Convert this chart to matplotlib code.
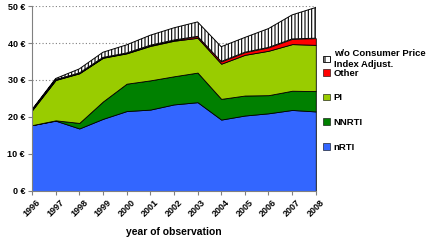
import numpy as np
import matplotlib.pyplot as plt
from matplotlib.patches import Patch

plt.rcParams['font.family'] = ['Liberation Sans', 'DejaVu Sans']
plt.rcParams['font.weight'] = 'bold'
plt.rcParams['hatch.linewidth'] = 0.8

# data (euro)
years = [1996, 1997, 1998, 1999, 2000, 2001, 2002, 2003, 2004, 2005, 2006, 2007, 2008]
nrti = [17.8, 19.0, 16.9, 19.5, 21.6, 22.0, 23.4, 24.0, 19.3, 20.4, 21.0, 21.9, 21.5]
nnrti = [0.0, 0.1, 1.5, 4.7, 7.4, 7.9, 7.6, 8.0, 5.6, 5.4, 4.9, 5.2, 5.5]
pi = [4.0, 10.9, 13.4, 11.8, 8.2, 9.3, 9.6, 9.4, 9.5, 11.0, 12.0, 12.6, 12.5]
other = [0.1, 0.1, 0.1, 0.1, 0.1, 0.2, 0.2, 0.4, 0.6, 0.7, 0.9, 1.4, 1.8]
wo_cpi = [0.1, 0.3, 1.1, 1.4, 2.2, 2.7, 3.3, 3.9, 4.0, 4.0, 5.1, 6.5, 8.3]

labels = ['nRTI', 'NNRTI', 'PI', 'Other', 'w/o Consumer Price\nIndex Adjust.']
colors = ['#3366FF', '#008000', '#99CC00', '#FF0000', 'white']

fig = plt.figure(figsize=(4.3, 2.46), dpi=100)
ax = fig.add_axes([0.0744, 0.2236, 0.66, 0.752])

x = np.array(years)
series = [nrti, nnrti, pi, other, wo_cpi]
base = np.zeros(len(x))
handles = []
for i, s in enumerate(series):
    top = base + np.array(s)
    if i == 4:
        ax.fill_between(x, base, top, facecolor='white', edgecolor='black',
                        hatch='|||||', linewidth=0.7, zorder=2)
        handles.append(Patch(facecolor='white', edgecolor='black', hatch='|||', linewidth=0.6))
    else:
        ax.fill_between(x, base, top, facecolor=colors[i], edgecolor='black',
                        linewidth=0.6, zorder=2)
        handles.append(Patch(facecolor=colors[i], edgecolor='black', linewidth=0.4))
    base = top

ax.set_xlim(1996, 2008)
ax.set_ylim(0, 50)
ax.set_xticks(years)
ax.set_xticklabels([str(y) for y in years], rotation=45, fontsize=6.5, fontweight='bold')
ax.set_yticks([0, 10, 20, 30, 40, 50])
ax.set_yticklabels(['%d €' % v for v in [0, 10, 20, 30, 40, 50]], fontsize=6.5, fontweight='bold')
ax.yaxis.grid(True, linestyle=(0, (1, 2)), color='#808080', linewidth=0.8, zorder=0)
ax.set_axisbelow(True)
for sp in ['top', 'right']:
    ax.spines[sp].set_visible(False)
ax.spines['left'].set_color('#808080')
ax.spines['bottom'].set_color('#808080')
ax.tick_params(axis='both', direction='out', length=3, color='#808080', pad=2)
ax.set_xlabel('year of observation', fontsize=7.5, fontweight='bold', labelpad=6)

leg_kw = dict(loc='upper left', frameon=False, fontsize=6.8,
              handlelength=0.7, handleheight=0.7, handletextpad=0.4,
              borderaxespad=0, borderpad=0)
leg1 = fig.legend(handles[4:], labels[4:], bbox_to_anchor=(0.752, 0.80), **leg_kw)
leg2 = fig.legend(handles[3::-1], labels[3::-1], bbox_to_anchor=(0.752, 0.72),
                  labelspacing=1.65, **leg_kw)
for leg in (leg1, leg2):
    for t in leg.get_texts():
        t.set_fontweight('bold')

fig.savefig('out.png', dpi=100)
